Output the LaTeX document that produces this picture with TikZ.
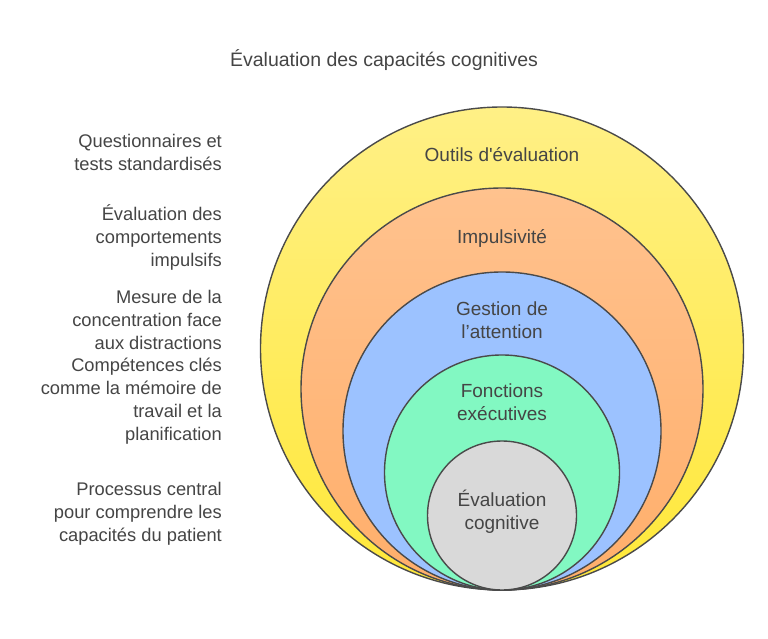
\documentclass[tikz,border=0pt]{standalone}
\usepackage{fontspec}
\setmainfont{Liberation Sans}[Ligatures=TeXOff]
\begin{document}
\begin{tikzpicture}[x=1pt,y=-1pt,
  ring/.style={circle, draw=edgegray, line width=1.4pt, inner sep=0pt},
  lab/.style={text=txtgray, font=\fontsize{19}{23}\selectfont, align=center, inner sep=0pt},
  side/.style={text=txtgray, font=\fontsize{18.3}{23}\selectfont, align=right, anchor=east, inner sep=0pt}]
\definecolor{edgegray}{HTML}{4A4A4A}
\definecolor{txtgray}{HTML}{454545}
\definecolor{yelA}{HTML}{FFF086}
\definecolor{yelB}{HTML}{FFE838}
\definecolor{orA}{HTML}{FFC28E}
\definecolor{orB}{HTML}{FFAE6A}
\definecolor{blA}{HTML}{9CC2FF}
\definecolor{grA}{HTML}{82F8C2}
\definecolor{gyA}{HTML}{D9D9D9}
\useasboundingbox (0,0) rectangle (768,639);
\fill[white] (0,0) rectangle (768,639);
\node (title) [text=txtgray, font=\fontsize{19.5}{23}\selectfont, inner sep=0pt] at (384,60) {Évaluation des capacités cognitives};
\node (c1) [ring, minimum size=483pt, top color=yelA, bottom color=yelB] at (502,348.5) {};
\node (c2) [ring, minimum size=402pt, top color=orA, bottom color=orB] at (502,389) {};
\node (c3) [ring, minimum size=318pt, fill=blA] at (502,431) {};
\node (c4) [ring, minimum size=235pt, fill=grA] at (502,472.5) {};
\node (c5) [ring, minimum size=149pt, fill=gyA] at (502,515.5) {};
\node (l1) [lab] at (502,155) {Outils d'évaluation};
\node (l2) [lab] at (502,238) {Impulsivité};
\node (l3) [lab] at (502,320) {Gestion de\\l’attention};
\node (l4) [lab] at (502,402) {Fonctions\\exécutives};
\node (l5) [lab] at (502,512) {Évaluation\\cognitive};
\node (s1) [side] at (222,152) {Questionnaires et\\tests standardisés};
\node (s2) [side] at (222,237) {Évaluation des\\comportements\\impulsifs};
\node (s3) [side] at (222,320) {Mesure de la\\concentration face\\aux distractions};
\node (s4) [side] at (222,401) {Compétences clés\\comme la mémoire de\\travail et la\\planification};
\node (s5) [side] at (222,514) {Processus central\\pour comprendre les\\capacités du patient};
\end{tikzpicture}
\end{document}
